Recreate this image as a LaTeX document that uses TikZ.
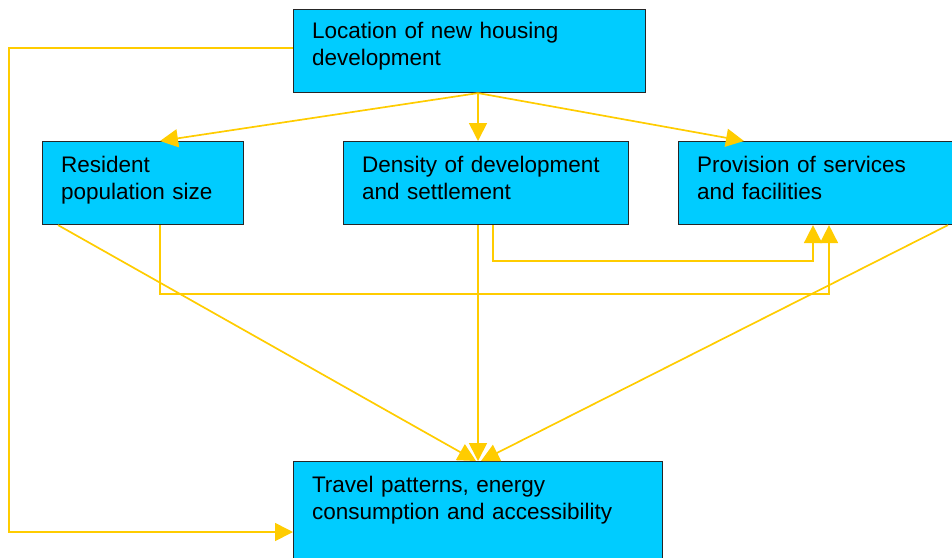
\documentclass[tikz,border=0pt]{standalone}
\usepackage{fontspec}
\setmainfont{Liberation Sans}
\usetikzlibrary{calc,arrows.meta}
\definecolor{boxfill}{HTML}{00CCFF}
\definecolor{flow}{HTML}{FFCC00}

\begin{document}
\begin{tikzpicture}[x=1pt,y=-1pt,
  box/.style={draw=black!85, line width=1.1pt, fill=boxfill, anchor=north west,
    align=left, inner xsep=18.5pt, inner ysep=0pt,
    text height=31pt, text depth=52pt,
    font=\fontsize{22.5}{26.5}\selectfont},
  link/.style={draw=flow, line width=1.7pt,
    -{Triangle[length=18pt,width=18pt]}}]
\useasboundingbox (0,0) rectangle (952,557);

% boxes
\node[box, text width=315pt, text height=29pt, text depth=54pt] (loc) at (293,9)
  {Location of new housing\\development};
\node[box, text width=164pt] (res) at (42,141) {Resident\\population size};
\node[box, text width=248pt] (den) at (343,141) {Density of development\\and settlement};
\node[box, text width=243pt] (pro) at (678,141) {Provision of services\\and facilities};
\node[box, text width=332pt, text depth=69pt] (trv) at (293,461)
  {Travel patterns, energy\\consumption and accessibility};

% fan-out from the location box
\coordinate (hub) at ($(loc.south west)+(185,0)$);
\draw[link] (hub) -- ($(res.north west)+(118,0)$);
\draw[link] (hub) -- (den.north -| hub);
\draw[link] (hub) -- ($(pro.north west)+(66,0)$);

% outer loop straight to travel patterns
\draw[link] ($(loc.north west)+(0,39)$) -- ++(-284,0) |- ($(trv.north west)+(0,71)$);

% links into provision of services
\draw[link] ($(res.south west)+(118,0)$) -- ++(0,69) -| ($(pro.south west)+(151,0)$);
\draw[link] ($(den.south west)+(150,0)$) -- ++(0,36) -| ($(pro.south west)+(135,0)$);

% links into travel patterns
\draw[link] ($(res.south west)+(16,0)$) -- ($(trv.north west)+(183,0)$);
\draw[link] (den.south -| hub) -- (trv.north -| hub);
\draw[link] ($(pro.south west)+(270,0)$) -- ($(trv.north west)+(188,0)$);
\end{tikzpicture}
\end{document}
